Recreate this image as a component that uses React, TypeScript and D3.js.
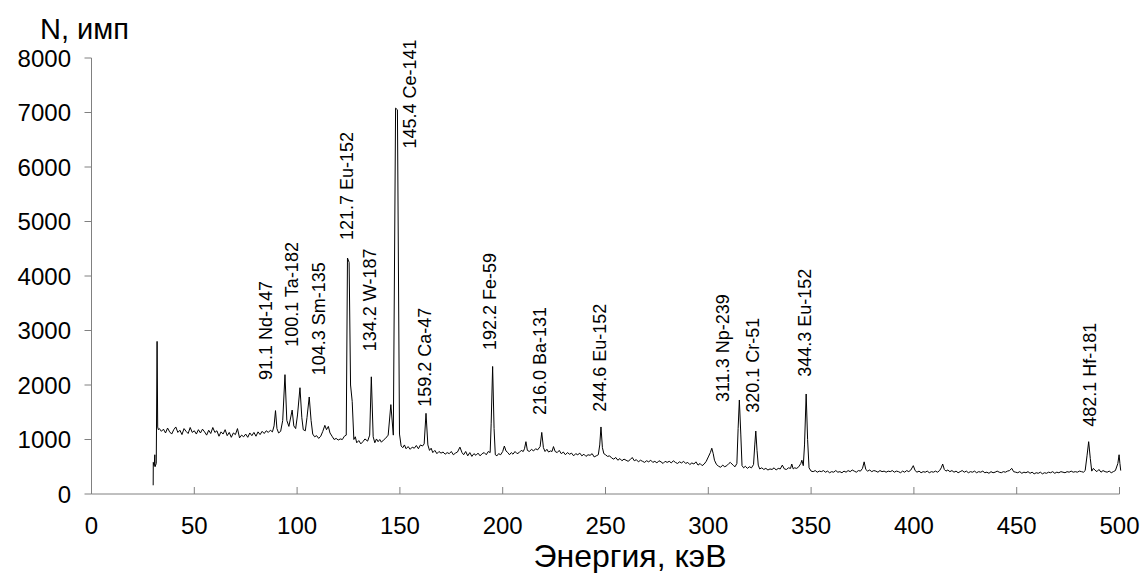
import React from 'react';
import * as d3 from 'd3';

// gamma spectrum, [energy keV, counts]
const spectrum: [number, number][] = [
  [30.0, 160], [30.05, 580], [30.5, 520], [30.8, 720], [30.9, 500], [31.5, 560], [31.9, 2800], [32.2, 1230], [32.5, 1180],
  [33, 1200], [34, 1150], [35, 1190], [36, 1120], [37, 1210], [38, 1140], [39, 1100], [40, 1180], [41, 1230], [42, 1130],
  [43, 1170], [44, 1090], [45, 1200], [46, 1150], [47, 1110], [48, 1220], [49, 1130], [50, 1160], [51, 1100], [52, 1180],
  [53, 1120], [54, 1190], [55, 1140], [56, 1080], [57, 1170], [58, 1110], [59, 1220], [60, 1130], [61, 1160], [62, 1060],
  [63, 1140], [64, 1100], [65, 1180], [66, 1070], [67, 1130], [68, 1040], [69, 1120], [70, 1090], [71, 1200], [72, 1030],
  [73, 1080], [74, 1050], [75, 1100], [76, 1040], [77, 1120], [78, 1070], [79, 1130], [80, 1060], [81, 1140], [82, 1090],
  [83, 1150], [84, 1110], [85, 1160], [86, 1130], [87, 1170], [88, 1140],
  [88.8, 1250], [89.5, 1530], [90.2, 1200], [91, 1120], [92, 1150], [93, 1350], [94.1, 2190], [95, 1350], [96, 1240],
  [97.6, 1540], [98.4, 1250], [99.3, 1200], [100.2, 1450], [101.4, 1950], [102.3, 1400], [103, 1180], [104, 1160],
  [104.8, 1400], [105.9, 1780], [106.8, 1350], [107.6, 1100], [108.5, 1050], [109.5, 1070], [110.5, 1020], [111.5, 1060],
  [112.5, 1150], [113.5, 1260], [114.3, 1180], [115.2, 1240], [116, 1120], [117, 1060], [118, 1000], [119, 1020],
  [120, 990], [121, 1010], [122, 1000], [123, 1060],
  [123.9, 1080], [124.5, 4330], [125.3, 4250], [126.0, 2000], [126.8, 1700], [127.6, 1000], [128.3, 1050], [129, 940],
  [130, 980], [131, 920], [132, 960], [133, 1010], [134.3, 970], [135.3, 1080], [136.1, 2150], [137, 1050], [137.8, 940],
  [138.6, 1010], [139.4, 960], [140.2, 1000], [141, 950], [142, 990], [143, 1020], [144.3, 1080], [145.6, 1640],
  [146.8, 1080], [147.9, 7080], [148.8, 7050], [149.8, 1100], [150.6, 880], [151.4, 850], [152.2, 900], [153, 830],
  [154, 870], [155, 820], [156, 860], [157, 840], [158, 890], [159, 830], [160, 900], [161, 880],
  [161.8, 920], [162.7, 1480], [163.6, 900], [164.4, 800], [165.2, 840], [166, 760], [167, 800], [168, 740], [169, 780],
  [170, 750], [171, 770], [172, 730], [173, 760], [174, 740], [175, 780], [176, 720], [177, 750], [178, 770],
  [179.2, 860], [180.2, 760], [181, 720], [182, 780], [183, 700], [184, 760], [185, 690], [186, 740], [187, 710],
  [188, 750], [189, 700], [190, 740], [191, 760], [192, 720], [193, 780],
  [193.9, 760], [194.4, 1300], [195.1, 2340], [195.8, 1200], [196.4, 720], [197.2, 700], [198, 740], [199, 720],
  [200, 780], [200.8, 880], [201.6, 790], [202.5, 760], [203.3, 720], [204.2, 760], [205, 730], [206, 780], [207, 740],
  [208, 760], [209, 800], [210, 780], [210.6, 830], [211.3, 960], [212, 800], [213, 780], [214, 820], [215, 790],
  [216, 830], [217, 810], [218.2, 870], [219, 1130], [219.8, 850], [220.6, 780], [221.5, 820], [222.3, 770],
  [223.2, 790], [224, 780], [224.7, 870], [225.5, 780], [226.5, 760], [227.5, 800], [228.5, 740], [229.5, 770],
  [230.5, 720], [231.5, 760], [232.5, 730], [233.5, 750], [234.5, 700], [235.5, 740], [236.5, 720], [237.5, 750],
  [238.5, 700], [239.5, 730], [240.5, 690], [241.5, 720], [242.5, 710], [243.5, 740], [244.5, 680], [245.5, 700],
  [246.5, 720], [247.2, 900], [247.8, 1230], [248.5, 850], [249.2, 740], [250, 720], [251, 690], [252, 700], [253, 660],
  [254, 640], [255, 670], [256, 620], [257, 650], [258, 610], [259, 640], [260, 620], [261, 600], [262, 630], [263, 670],
  [264, 610], [265, 630], [266, 590], [267, 620], [268, 600], [269, 580], [270, 610], [271, 590], [272, 620], [273, 580],
  [274, 600], [275, 570], [276, 610], [277, 590], [278, 560], [279, 600], [280, 580], [281, 600], [282, 570], [283, 610],
  [284, 580], [285, 560], [286, 590], [287, 570], [288, 600], [289, 560], [290, 580], [291, 540], [292, 570], [293, 550],
  [294, 590], [295, 530], [296, 560], [297, 520], [298, 550], [299, 600],
  [300, 680], [301, 760], [301.7, 840], [302.4, 740], [303, 620], [304, 540], [305, 510], [306, 490], [307, 530],
  [308, 500], [309, 520], [310, 560], [310.7, 580], [311.5, 550], [312.3, 520], [313, 500], [313.9, 560], [314.5, 1200],
  [315.1, 1725], [315.8, 1100], [316.4, 520], [317.2, 480], [318, 510], [319, 470], [320, 500], [321, 480], [322, 540],
  [322.6, 900], [323.1, 1155], [323.7, 800], [324.3, 530], [325, 460], [326, 480], [327, 450], [328, 470], [329, 440],
  [330, 460], [331, 450], [332, 480], [333, 440], [334, 470], [335, 460], [336, 530], [337, 460], [338, 450], [339, 480],
  [340, 470], [340.6, 550], [341.3, 460], [342, 480], [343, 470], [344, 500], [345, 560], [345.5, 620], [346.2, 520],
  [346.8, 900], [347.6, 1835], [348.3, 1000], [349, 480], [350, 420], [351, 410], [352, 430], [353, 400], [354, 420],
  [355, 410], [356, 430], [357, 400], [358, 420], [359, 390], [360, 410], [361, 400], [362, 430], [363, 400], [364, 410],
  [365, 390], [366, 420], [367, 400], [368, 430], [369, 410], [370, 440], [371, 420], [372, 400], [373, 430], [374, 420],
  [375, 470], [375.8, 590], [376.6, 450], [377.5, 420], [378.5, 440], [379.5, 410], [380.5, 430], [381.5, 420],
  [382.5, 400], [383.5, 430], [384.5, 410], [385.5, 420], [386.5, 400], [387.5, 420], [388.5, 410], [389.5, 430],
  [390.5, 400], [391.5, 420], [392.5, 410], [393.5, 390], [394.5, 420], [395.5, 400], [396.5, 430], [397.5, 410],
  [398.5, 440], [399.7, 520], [400.6, 430], [401.5, 400], [402.5, 420], [403.5, 390], [404.5, 410], [405.5, 400],
  [406.5, 420], [407.5, 390], [408.5, 410], [409.5, 400], [410.5, 420], [411.5, 400], [412.5, 430], [413.3, 480],
  [414, 550], [414.8, 450], [415.6, 420], [416.5, 440], [417.5, 410], [418.5, 430], [419.5, 400], [420.5, 420],
  [421.5, 390], [422.5, 410], [423.5, 430], [424.5, 400], [425.5, 420], [426.5, 390], [427.5, 410], [428.5, 400],
  [429.5, 420], [430.5, 390], [431.5, 410], [432.5, 400], [433.5, 420], [434.5, 390], [435.5, 400], [436.5, 380],
  [437.5, 410], [438.5, 390], [439.5, 400], [440.5, 420], [441.5, 400], [442.5, 390], [443.5, 410], [444.5, 400],
  [445.5, 420], [446.5, 430], [447.6, 470], [448.5, 410], [449.5, 400], [450.5, 390], [451.5, 410], [452.5, 380],
  [453.5, 400], [454.5, 390], [455.5, 410], [456.5, 380], [457.5, 400], [458.5, 370], [459.5, 390], [460.5, 380],
  [461.5, 400], [462.5, 370], [463.5, 390], [464.5, 380], [465.5, 400], [466.5, 390], [467.5, 410], [468.5, 380],
  [469.5, 400], [470.5, 390], [471.5, 410], [472.5, 400], [473.5, 390], [474.5, 410], [475.5, 400], [476.5, 420],
  [477.5, 400], [478.5, 410], [479.5, 400], [480.5, 420], [481.5, 410], [482.5, 400], [483.3, 430], [484.2, 700],
  [485, 960], [485.8, 650], [486.5, 420], [487.3, 470], [488, 440], [489, 410], [490, 450], [491, 400], [492, 430],
  [493, 410], [494, 400], [495, 420], [496, 390], [497, 410], [498, 430], [499.2, 560], [499.8, 720], [500.2, 560],
  [500.6, 430],
];

// peak labels: text, anchor energy, anchor count (bottom of rotated text)
const peakLabels: [string, number, number][] = [
  ['91.1 Nd-147', 84.8, 2090],
  ['100.1 Ta-182', 97.5, 2700],
  ['104.3 Sm-135', 110.5, 2180],
  ['121.7 Eu-152', 124.1, 4660],
  ['134.2 W-187', 135.4, 2620],
  ['145.4 Ce-141', 154.9, 6340],
  ['159.2 Ca-47', 162.2, 1600],
  ['192.2 Fe-59', 193.8, 2640],
  ['216.0 Ba-131', 218.2, 1450],
  ['244.6 Eu-152', 247.3, 1510],
  ['311.3 Np-239', 307.2, 1690],
  ['320.1 Cr-51', 321.8, 1490],
  ['344.3 Eu-152', 347.1, 2150],
  ['482.1 Hf-181', 485.3, 1235],
];

const xTicks = [0, 50, 100, 150, 200, 250, 300, 350, 400, 450, 500];
const yTicks = [0, 1000, 2000, 3000, 4000, 5000, 6000, 7000, 8000];

const W = 1146;
const H = 573;
const font = '"Liberation Sans", Arial, sans-serif';
const axisColor = '#808080';

export default function App() {
  const x = d3.scaleLinear().domain([0, 500]).range([91.5, 1119.5]);
  const y = d3.scaleLinear().domain([0, 8000]).range([494, 58]);
  const line = d3
    .line<[number, number]>()
    .x(d => x(d[0]))
    .y(d => y(d[1]));

  return (
    <>
      <style>{'body{margin:0}'}</style>
      <svg width={W} height={H} style={{ display: 'block', background: '#fff' }} fontFamily={font}>
        {/* y axis */}
        <line x1={x(0)} x2={x(0)} y1={y(0)} y2={y(8000)} stroke={axisColor} />
        {yTicks.map(t => (
          <g key={t}>
            <line x1={x(0) - 7} x2={x(0)} y1={y(t)} y2={y(t)} stroke={axisColor} />
            <text x={71} y={y(t)} dy="0.36em" textAnchor="end" fontSize={24}>
              {t}
            </text>
          </g>
        ))}
        {/* x axis */}
        <line x1={x(0)} x2={x(500)} y1={y(0)} y2={y(0)} stroke={axisColor} />
        {xTicks.map(t => (
          <g key={t}>
            <line x1={x(t)} x2={x(t)} y1={y(0)} y2={y(0) - 7} stroke={axisColor} />
            <text x={x(t)} y={534} textAnchor="middle" fontSize={24}>
              {t}
            </text>
          </g>
        ))}
        <text x={40} y={39} fontSize={29}>
          N, имп
        </text>
        <text x={630} y={567} textAnchor="middle" fontSize={32}>
          Энергия, кэВ
        </text>

        <path d={line(spectrum) ?? ''} fill="none" stroke="#000" strokeWidth={1} />

        {peakLabels.map(([label, e, n]) => (
          <text
            key={label}
            transform={`translate(${x(e)},${y(n)}) rotate(-90)`}
            dy="0.35em"
            fontSize={18}
          >
            {label}
          </text>
        ))}
      </svg>
    </>
  );
}
